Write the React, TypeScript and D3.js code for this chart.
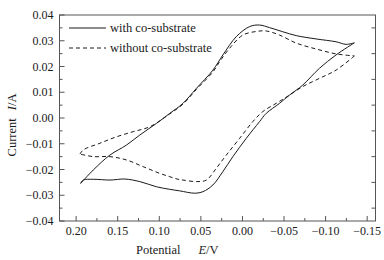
import React from "react";
import * as d3 from "d3";

// ---- data (potential E / V, current I / A) ----
const solidForwardE = [0.1946, 0.1794, 0.1594, 0.1394, 0.1234, 0.1034, 0.0874, 0.0715, 0.0554, 0.0355, 0.0235, 0.0074, -0.0086, -0.0206, -0.0326, -0.0485, -0.0646, -0.0886, -0.1126, -0.1246, -0.1346];
const solidForwardI = [-0.0254, -0.0202, -0.0144, -0.0105, -0.0066, -0.0021, 0.0018, 0.0057, 0.0115, 0.0186, 0.0245, 0.0316, 0.0355, 0.0361, 0.0351, 0.0335, 0.032, 0.0307, 0.0296, 0.0286, 0.0292];
const solidReverseE = [-0.1346, -0.1126, -0.0926, -0.0725, -0.0566, -0.0446, -0.0286, -0.0206, -0.0046, 0.0115, 0.0235, 0.0355, 0.0475, 0.0574, 0.0754, 0.0874, 0.1034, 0.1234, 0.1414, 0.1594, 0.1794, 0.1914, 0.1946];
const solidReverseI = [0.0292, 0.0245, 0.0193, 0.0128, 0.0089, 0.0057, 0.0018, -0.0014, -0.0079, -0.015, -0.0208, -0.026, -0.0286, -0.0292, -0.0283, -0.0277, -0.0267, -0.0247, -0.0237, -0.0241, -0.0238, -0.0241, -0.0254];

const dashForwardE = [0.1954, 0.1914, 0.1714, 0.1514, 0.1314, 0.1114, 0.0874, 0.0715, 0.0554, 0.0355, 0.0274, 0.0154, -0.0005, -0.0166, -0.0286, -0.0446, -0.0646, -0.0886, -0.1126, -0.1346];
const dashForwardI = [-0.014, -0.0124, -0.0098, -0.0073, -0.0053, -0.0034, 0.0016, 0.0054, 0.0111, 0.0179, 0.0219, 0.0271, 0.0322, 0.0336, 0.0338, 0.0322, 0.0291, 0.0268, 0.0249, 0.0241];
const dashReverseE = [-0.1346, -0.1126, -0.0926, -0.0725, -0.0566, -0.0406, -0.0245, -0.0125, 0.0034, 0.0194, 0.0314, 0.0434, 0.0554, 0.0715, 0.0774, 0.0874, 0.0994, 0.1194, 0.1394, 0.1594, 0.1794, 0.1954];
const dashReverseI = [0.0241, 0.0186, 0.0154, 0.0122, 0.0089, 0.0057, 0.0025, -0.0014, -0.0079, -0.0144, -0.0195, -0.0241, -0.0247, -0.0241, -0.0238, -0.0228, -0.0215, -0.0189, -0.0163, -0.015, -0.015, -0.014];

const xTicks = [0.2, 0.15, 0.1, 0.05, 0.0, -0.05, -0.1, -0.15];
const xMinorTicks = [0.175, 0.125, 0.075, 0.025, -0.025, -0.075, -0.125];
const yTicks = [0.04, 0.03, 0.02, 0.01, 0.0, -0.01, -0.02, -0.03, -0.04];
const yMinorTicks = [0.035, 0.025, 0.015, 0.005, -0.005, -0.015, -0.025, -0.035];
const legendLabels = ["with co-substrate", "without co-substrate"];

const W = 384;
const H = 260;
const L = 59.5, R = 375.5, T = 15, B = 221;
const FONT = "Liberation Serif, Times New Roman, serif";
const INK = "#1a1a1a";
const AXIS = "#555";
const DASH = "4,3";

export default function App() {
  const x = d3.scaleLinear().domain([0.22, -0.16]).range([L, R]);
  const y = d3.scaleLinear().domain([-0.04, 0.04]).range([B, T]);
  const fmt = d3.format(".2f");
  const line = d3
    .line<[number, number]>()
    .x((d) => x(d[0]))
    .y((d) => y(d[1]))
    .curve(d3.curveCatmullRom.alpha(0.5));
  const zip = (a: number[], b: number[]) => a.map((v, i) => [v, b[i]] as [number, number]);

  const paths = [
    { d: line(zip(solidForwardE, solidForwardI)), dash: undefined },
    { d: line(zip(solidReverseE, solidReverseI)), dash: undefined },
    { d: line(zip(dashForwardE, dashForwardI)), dash: DASH },
    { d: line(zip(dashReverseE, dashReverseI)), dash: DASH },
  ];

  const textStyle = { fontFamily: FONT };

  return (
    <svg width={W} height={H} style={{ display: "block", position: "absolute", left: 0, top: 0, background: "#fff" }}>
      <rect x={0} y={0} width={W} height={H} fill="#fff" />
      {/* curves */}
      <g fill="none" stroke={INK} strokeWidth={1}>
        {paths.map((p, i) => (
          <path key={i} d={p.d || ""} strokeDasharray={p.dash} />
        ))}
      </g>
      {/* frame */}
      <rect x={L} y={T} width={R - L} height={B - T} fill="none" stroke={AXIS} strokeWidth={1} />
      {/* ticks */}
      <g stroke={AXIS} strokeWidth={1}>
        {xTicks.map((t) => (
          <line key={"xt" + t} x1={x(t)} x2={x(t)} y1={B} y2={B - 5} />
        ))}
        {xMinorTicks.map((t) => (
          <line key={"xm" + t} x1={x(t)} x2={x(t)} y1={B} y2={B - 3} />
        ))}
        {yTicks.map((t) => (
          <line key={"yt" + t} x1={L} x2={L + 5} y1={y(t)} y2={y(t)} />
        ))}
        {yMinorTicks.map((t) => (
          <line key={"ym" + t} x1={L} x2={L + 3} y1={y(t)} y2={y(t)} />
        ))}
        {yMinorTicks.map((t) => (
          <line key={"yr" + t} x1={R} x2={R - 4} y1={y(t)} y2={y(t)} />
        ))}
      </g>
      {/* tick labels */}
      <g style={textStyle} fontSize={12} fill={INK}>
        {xTicks.map((t) => (
          <text key={"xl" + t} x={x(t)} y={235} textAnchor="middle">
            {fmt(t)}
          </text>
        ))}
        {yTicks.map((t) => (
          <text key={"yl" + t} x={53.5} y={y(t) + 4.2} textAnchor="end">
            {fmt(t)}
          </text>
        ))}
      </g>
      {/* axis titles */}
      <text x={136} y={254} style={textStyle} fontSize={12.5} fill={INK}>
        Potential
        <tspan dx={18} fontStyle="italic">E</tspan>
        <tspan>/V</tspan>
      </text>
      <text
        transform={`translate(16,125) rotate(-90)`}
        textAnchor="middle"
        style={textStyle}
        fontSize={12.5}
        fill={INK}
      >
        Current
        <tspan dx={8} fontStyle="italic">I</tspan>
        <tspan>/A</tspan>
      </text>
      {/* legend */}
      <g style={textStyle} fontSize={12.5} fill={INK}>
        <line x1={69} x2={106} y1={28} y2={28} stroke={INK} strokeWidth={1} />
        <text x={110} y={32}>{legendLabels[0]}</text>
        <line x1={69} x2={106} y1={48} y2={48} stroke={INK} strokeWidth={1} strokeDasharray={DASH} />
        <text x={110} y={52}>{legendLabels[1]}</text>
      </g>
    </svg>
  );
}
